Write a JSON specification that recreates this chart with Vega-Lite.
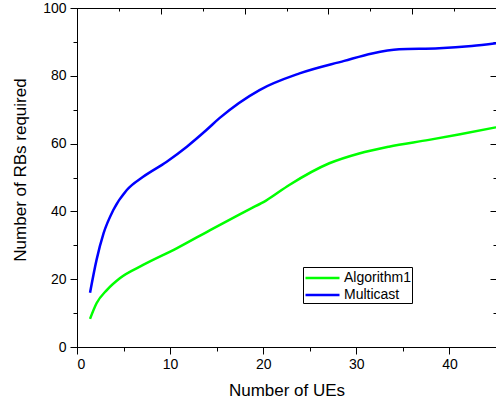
{
  "$schema": "https://vega.github.io/schema/vega-lite/v6.json",
  "autosize": "none",
  "width": 419,
  "height": 339,
  "padding": {"left": 77, "top": 8, "right": 0, "bottom": 55},
  "background": "white",
  "config": {
    "font": "Liberation Sans",
    "view": {"stroke": "black", "strokeWidth": 1},
    "axis": {
      "grid": false,
      "domainColor": "black",
      "tickColor": "black",
      "labelColor": "black",
      "titleColor": "black",
      "labelFontSize": 14,
      "titleFontSize": 17,
      "titleFontWeight": "normal",
      "labelFont": "Liberation Sans",
      "titleFont": "Liberation Sans",
      "tickWidth": 1,
      "domainWidth": 1
    },
    "legend": {
      "orient": "none",
      "legendX": 226,
      "legendY": 259,
      "strokeColor": "black",
      "fillColor": "white",
      "padding": 1,
      "symbolType": "M-2,0L2,0",
      "symbolStrokeWidth": 2.5,
      "symbolSize": 289,
      "symbolOffset": 8.5,
      "labelFontSize": 14,
      "labelFont": "Liberation Sans",
      "labelColor": "black",
      "labelOffset": 11.5,
      "rowPadding": 0
    }
  },
  "data": {
    "values": [
      {"x": 1.4, "y": 8.3, "series": "Algorithm1"},
      {"x": 2.1, "y": 12.9, "series": "Algorithm1"},
      {"x": 3.2, "y": 16.8, "series": "Algorithm1"},
      {"x": 4.6, "y": 20.3, "series": "Algorithm1"},
      {"x": 7.1, "y": 24.2, "series": "Algorithm1"},
      {"x": 10.7, "y": 29.1, "series": "Algorithm1"},
      {"x": 14.3, "y": 34.5, "series": "Algorithm1"},
      {"x": 18.5, "y": 40.6, "series": "Algorithm1"},
      {"x": 20.3, "y": 43.2, "series": "Algorithm1"},
      {"x": 22.8, "y": 47.8, "series": "Algorithm1"},
      {"x": 27.1, "y": 54.2, "series": "Algorithm1"},
      {"x": 30.3, "y": 57.1, "series": "Algorithm1"},
      {"x": 33.5, "y": 59.1, "series": "Algorithm1"},
      {"x": 37.8, "y": 61.1, "series": "Algorithm1"},
      {"x": 41.0, "y": 62.7, "series": "Algorithm1"},
      {"x": 45.0, "y": 64.8, "series": "Algorithm1"},
      {"x": 1.4, "y": 16.0, "series": "Multicast"},
      {"x": 2.1, "y": 25.7, "series": "Multicast"},
      {"x": 2.85, "y": 33.5, "series": "Multicast"},
      {"x": 3.9, "y": 40.4, "series": "Multicast"},
      {"x": 5.35, "y": 46.3, "series": "Multicast"},
      {"x": 7.1, "y": 50.2, "series": "Multicast"},
      {"x": 9.6, "y": 54.6, "series": "Multicast"},
      {"x": 11.8, "y": 59.1, "series": "Multicast"},
      {"x": 13.9, "y": 64.0, "series": "Multicast"},
      {"x": 15.3, "y": 67.5, "series": "Multicast"},
      {"x": 19.6, "y": 75.8, "series": "Multicast"},
      {"x": 23.9, "y": 80.7, "series": "Multicast"},
      {"x": 28.7, "y": 84.4, "series": "Multicast"},
      {"x": 31.7, "y": 86.6, "series": "Multicast"},
      {"x": 34.6, "y": 87.8, "series": "Multicast"},
      {"x": 38.9, "y": 88.1, "series": "Multicast"},
      {"x": 42.4, "y": 88.8, "series": "Multicast"},
      {"x": 45.0, "y": 89.6, "series": "Multicast"}
    ]
  },
  "resolve": {"scale": {"x": "independent"}, "axis": {"x": "independent", "y": "independent"}},
  "layer": [
    {
      "mark": {"type": "line", "interpolate": "monotone", "strokeWidth": 2.5, "strokeCap": "butt"},
      "encoding": {
        "x": {"field": "x", "type": "quantitative",
          "scale": {"domain": [0, 45], "nice": false, "zero": false},
          "axis": {"orient": "bottom", "values": [0, 10, 20, 30, 40], "tickSize": 7, "labelPadding": 3, "title": "Number of UEs", "titlePadding": 11}},
        "y": {"field": "y", "type": "quantitative",
          "scale": {"domain": [0, 100], "nice": false, "zero": false},
          "axis": {"orient": "left", "values": [0, 20, 40, 60, 80, 100], "tickSize": 7, "labelPadding": 4, "title": "Number of RBs required", "titlePadding": 13, "titleY": 161.5}},
        "color": {"field": "series", "type": "nominal",
          "scale": {"domain": ["Algorithm1", "Multicast"], "range": ["#00ff00", "#0000ff"]},
          "legend": {"title": null, "labelExpr": "datum.label + '   '"}}
      }
    },
    {
      "mark": {"type": "point", "opacity": 0},
      "encoding": {
        "x": {"field": "x", "type": "quantitative",
          "scale": {"domain": [0, 45], "nice": false, "zero": false},
          "axis": {"orient": "bottom", "values": [5, 15, 25, 35, 45], "tickSize": 4, "labels": false, "domain": false, "title": null}},
        "y": {"field": "y", "type": "quantitative",
          "axis": {"orient": "left", "values": [10, 30, 50, 70, 90], "tickSize": 4, "labels": false, "domain": false, "title": null}}
      }
    },
    {
      "mark": {"type": "point", "opacity": 0},
      "encoding": {
        "x": {"field": "x", "type": "quantitative",
          "scale": {"domain": [0, 50], "nice": false, "zero": false},
          "axis": {"orient": "bottom", "offset": -339, "values": [0, 10, 20, 30, 40, 50], "tickSize": 6, "labels": false, "domain": false, "title": null}},
        "y": {"field": "y", "type": "quantitative",
          "axis": {"orient": "left", "offset": -419, "values": [0, 20, 40, 60, 80, 100], "tickSize": 6, "labels": false, "domain": false, "title": null}}
      }
    },
    {
      "mark": {"type": "point", "opacity": 0},
      "encoding": {
        "x": {"field": "x", "type": "quantitative",
          "scale": {"domain": [0, 50], "nice": false, "zero": false},
          "axis": {"orient": "bottom", "offset": -339, "values": [5, 15, 25, 35, 45], "tickSize": 3, "labels": false, "domain": false, "title": null}},
        "y": {"field": "y", "type": "quantitative",
          "axis": {"orient": "left", "offset": -419, "values": [10, 30, 50, 70, 90], "tickSize": 3, "labels": false, "domain": false, "title": null}}
      }
    }
  ]
}
